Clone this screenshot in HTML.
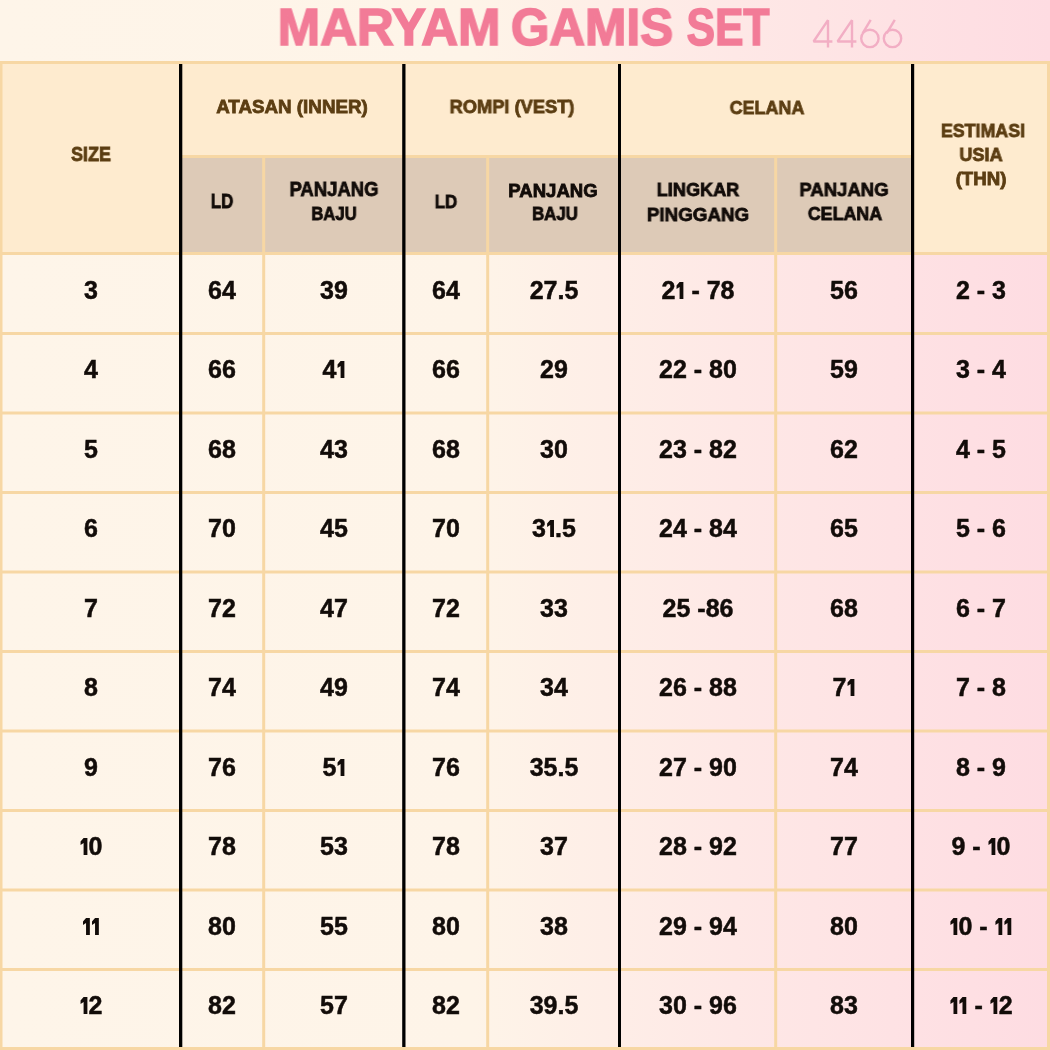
<!DOCTYPE html>
<html><head><meta charset="utf-8"><style>
html,body{margin:0;padding:0;}
body{width:1050px;height:1050px;position:relative;overflow:hidden;background:linear-gradient(90deg,#fef5e9 0%,#fef4e8 45%,#fee8e6 70%,#fedce2 100%);font-family:"Liberation Sans",sans-serif;}
.t{position:absolute;white-space:nowrap;line-height:1;font-weight:bold;transform-origin:50% 0;-webkit-text-stroke:0.5px currentColor;will-change:transform;}
.d{position:absolute;white-space:nowrap;line-height:1;font-weight:bold;font-size:25.0px;color:#120c09;transform:translateX(-50%);-webkit-text-stroke:0.5px currentColor;will-change:transform;}
.one{display:inline-block;vertical-align:-0.4px;}
</style></head><body>
<svg width="1050" height="1050" viewBox="0 0 1050 1050" style="position:absolute;left:0;top:0"><rect x="0" y="61" width="1050" height="194" fill="#feebcf"/><rect x="182" y="155" width="730" height="100" fill="#ddcab7"/><rect x="0" y="61" width="1050" height="3" fill="#f7d7a4"/><rect x="0" y="61" width="2.5" height="989" fill="#f7d7a4"/><rect x="1047" y="61" width="3" height="989" fill="#f7d7a4"/><rect x="0" y="1047" width="1050" height="3" fill="#f7d7a4"/><rect x="182" y="155" width="730" height="3" fill="#f7d7a4"/><rect x="0" y="252" width="1050" height="3" fill="#f7d7a4"/><rect x="0" y="332.0" width="1050" height="3.0" fill="#f7d7a4"/><rect x="0" y="411.5" width="1050" height="3.0" fill="#f7d7a4"/><rect x="0" y="491.0" width="1050" height="3.0" fill="#f7d7a4"/><rect x="0" y="570.5" width="1050" height="3.0" fill="#f7d7a4"/><rect x="0" y="650.0" width="1050" height="3.0" fill="#f7d7a4"/><rect x="0" y="729.5" width="1050" height="3.0" fill="#f7d7a4"/><rect x="0" y="809.0" width="1050" height="3.0" fill="#f7d7a4"/><rect x="0" y="888.5" width="1050" height="3.0" fill="#f7d7a4"/><rect x="0" y="968.0" width="1050" height="3.0" fill="#f7d7a4"/><rect x="262.2" y="155" width="3.0" height="895" fill="#f7d7a4"/><rect x="486.2" y="155" width="3.0" height="895" fill="#f7d7a4"/><rect x="774.2" y="155" width="3.0" height="895" fill="#f7d7a4"/><rect x="179" y="64" width="3.3" height="983" fill="#000"/><rect x="402.2" y="64" width="3.3" height="983" fill="#000"/><rect x="618" y="64" width="3" height="983" fill="#000"/><rect x="911" y="64" width="3.2" height="983" fill="#000"/></svg>
<div class="t" style="left:388.50px;top:2.46px;font-size:51.21px;color:#f27b97;transform:translateX(-50%) scaleX(0.995);-webkit-text-stroke:1.6px currentColor;">MARYAM</div><div class="t" style="left:592.00px;top:2.46px;font-size:51.21px;color:#f27b97;transform:translateX(-50%) scaleX(0.967);-webkit-text-stroke:1.6px currentColor;">GAMIS</div><div class="t" style="left:728.35px;top:2.46px;font-size:51.21px;color:#f27b97;transform:translateX(-50%) scaleX(0.832);-webkit-text-stroke:1.6px currentColor;">SET</div><div class="t" style="left:91.35px;top:145.41px;font-size:19.29px;color:#5c3e13;transform:translateX(-50%) scaleX(0.930);-webkit-text-stroke:0.8px currentColor;">SIZE</div><div class="t" style="left:291.75px;top:97.94px;font-size:18.44px;color:#5c3e13;transform:translateX(-50%) scaleX(1.019);-webkit-text-stroke:0.8px currentColor;">ATASAN (INNER)</div><div class="t" style="left:511.52px;top:98.00px;font-size:18.72px;color:#5c3e13;transform:translateX(-50%) scaleX(0.977);-webkit-text-stroke:0.8px currentColor;">ROMPI (VEST)</div><div class="t" style="left:766.50px;top:97.53px;font-size:19.15px;color:#5c3e13;transform:translateX(-50%) scaleX(0.936);-webkit-text-stroke:0.8px currentColor;">CELANA</div><div class="t" style="left:982.75px;top:122.04px;font-size:18.44px;color:#5c3e13;transform:translateX(-50%) scaleX(0.966);-webkit-text-stroke:0.8px currentColor;">ESTIMASI</div><div class="t" style="left:980.75px;top:146.04px;font-size:18.44px;color:#5c3e13;transform:translateX(-50%) scaleX(0.984);-webkit-text-stroke:0.8px currentColor;">USIA</div><div class="t" style="left:980.65px;top:170.11px;font-size:18.01px;color:#5c3e13;transform:translateX(-50%) scaleX(1.035);-webkit-text-stroke:0.8px currentColor;">(THN)</div><div class="t" style="left:222.45px;top:192.37px;font-size:19.57px;color:#120c09;transform:translateX(-50%) scaleX(0.863);-webkit-text-stroke:0.8px currentColor;">LD</div><div class="t" style="left:334.05px;top:180.27px;font-size:19.57px;color:#120c09;transform:translateX(-50%) scaleX(0.945);-webkit-text-stroke:0.8px currentColor;">PANJANG</div><div class="t" style="left:334.05px;top:204.88px;font-size:18.87px;color:#120c09;transform:translateX(-50%) scaleX(0.884);-webkit-text-stroke:0.8px currentColor;">BAJU</div><div class="t" style="left:445.50px;top:193.02px;font-size:18.58px;color:#120c09;transform:translateX(-50%) scaleX(0.912);-webkit-text-stroke:0.8px currentColor;">LD</div><div class="t" style="left:553.45px;top:181.71px;font-size:18.01px;color:#120c09;transform:translateX(-50%) scaleX(1.030);-webkit-text-stroke:0.8px currentColor;">PANJANG</div><div class="t" style="left:555.25px;top:205.19px;font-size:18.16px;color:#120c09;transform:translateX(-50%) scaleX(0.926);-webkit-text-stroke:0.8px currentColor;">BAJU</div><div class="t" style="left:697.70px;top:180.78px;font-size:18.87px;color:#120c09;transform:translateX(-50%) scaleX(0.961);-webkit-text-stroke:0.8px currentColor;">LINGKAR</div><div class="t" style="left:697.70px;top:204.53px;font-size:19.15px;color:#120c09;transform:translateX(-50%) scaleX(0.982);-webkit-text-stroke:0.8px currentColor;">PINGGANG</div><div class="t" style="left:844.25px;top:180.82px;font-size:18.58px;color:#120c09;transform:translateX(-50%) scaleX(0.997);-webkit-text-stroke:0.8px currentColor;">PANJANG</div><div class="t" style="left:844.75px;top:204.68px;font-size:18.87px;color:#120c09;transform:translateX(-50%) scaleX(0.946);-webkit-text-stroke:0.8px currentColor;">CELANA</div><div class="d" style="left:90.75px;top:277.52px">3</div><div class="d" style="left:222.20px;top:277.52px">64</div><div class="d" style="left:333.90px;top:277.52px">39</div><div class="d" style="left:445.90px;top:277.52px">64</div><div class="d" style="left:553.75px;top:277.52px">27.5</div><div class="d" style="left:697.60px;top:277.52px">2<svg class="one" width="9" height="17.6" viewBox="0 0 9 17.6"><path d="M4.05 0 H7.85 V17.6 H4.05 V5.0 L1.0 7.0 V3.6 Z" fill="#120c09"/></svg> - 78</div><div class="d" style="left:844.20px;top:277.52px">56</div><div class="d" style="left:980.60px;top:277.52px">2 - 3</div><div class="d" style="left:90.75px;top:357.02px">4</div><div class="d" style="left:222.20px;top:357.02px">66</div><div class="d" style="left:333.90px;top:357.02px">4<svg class="one" width="9" height="17.6" viewBox="0 0 9 17.6"><path d="M4.05 0 H7.85 V17.6 H4.05 V5.0 L1.0 7.0 V3.6 Z" fill="#120c09"/></svg></div><div class="d" style="left:445.90px;top:357.02px">66</div><div class="d" style="left:553.75px;top:357.02px">29</div><div class="d" style="left:697.60px;top:357.02px">22 - 80</div><div class="d" style="left:844.20px;top:357.02px">59</div><div class="d" style="left:980.60px;top:357.02px">3 - 4</div><div class="d" style="left:90.75px;top:436.52px">5</div><div class="d" style="left:222.20px;top:436.52px">68</div><div class="d" style="left:333.90px;top:436.52px">43</div><div class="d" style="left:445.90px;top:436.52px">68</div><div class="d" style="left:553.75px;top:436.52px">30</div><div class="d" style="left:697.60px;top:436.52px">23 - 82</div><div class="d" style="left:844.20px;top:436.52px">62</div><div class="d" style="left:980.60px;top:436.52px">4 - 5</div><div class="d" style="left:90.75px;top:516.02px">6</div><div class="d" style="left:222.20px;top:516.02px">70</div><div class="d" style="left:333.90px;top:516.02px">45</div><div class="d" style="left:445.90px;top:516.02px">70</div><div class="d" style="left:553.75px;top:516.02px">3<svg class="one" width="9" height="17.6" viewBox="0 0 9 17.6"><path d="M4.05 0 H7.85 V17.6 H4.05 V5.0 L1.0 7.0 V3.6 Z" fill="#120c09"/></svg>.5</div><div class="d" style="left:697.60px;top:516.02px">24 - 84</div><div class="d" style="left:844.20px;top:516.02px">65</div><div class="d" style="left:980.60px;top:516.02px">5 - 6</div><div class="d" style="left:90.75px;top:595.52px">7</div><div class="d" style="left:222.20px;top:595.52px">72</div><div class="d" style="left:333.90px;top:595.52px">47</div><div class="d" style="left:445.90px;top:595.52px">72</div><div class="d" style="left:553.75px;top:595.52px">33</div><div class="d" style="left:697.60px;top:595.52px">25 -86</div><div class="d" style="left:844.20px;top:595.52px">68</div><div class="d" style="left:980.60px;top:595.52px">6 - 7</div><div class="d" style="left:90.75px;top:675.02px">8</div><div class="d" style="left:222.20px;top:675.02px">74</div><div class="d" style="left:333.90px;top:675.02px">49</div><div class="d" style="left:445.90px;top:675.02px">74</div><div class="d" style="left:553.75px;top:675.02px">34</div><div class="d" style="left:697.60px;top:675.02px">26 - 88</div><div class="d" style="left:844.20px;top:675.02px">7<svg class="one" width="9" height="17.6" viewBox="0 0 9 17.6"><path d="M4.05 0 H7.85 V17.6 H4.05 V5.0 L1.0 7.0 V3.6 Z" fill="#120c09"/></svg></div><div class="d" style="left:980.60px;top:675.02px">7 - 8</div><div class="d" style="left:90.75px;top:754.52px">9</div><div class="d" style="left:222.20px;top:754.52px">76</div><div class="d" style="left:333.90px;top:754.52px">5<svg class="one" width="9" height="17.6" viewBox="0 0 9 17.6"><path d="M4.05 0 H7.85 V17.6 H4.05 V5.0 L1.0 7.0 V3.6 Z" fill="#120c09"/></svg></div><div class="d" style="left:445.90px;top:754.52px">76</div><div class="d" style="left:553.75px;top:754.52px">35.5</div><div class="d" style="left:697.60px;top:754.52px">27 - 90</div><div class="d" style="left:844.20px;top:754.52px">74</div><div class="d" style="left:980.60px;top:754.52px">8 - 9</div><div class="d" style="left:90.75px;top:834.02px"><svg class="one" width="9" height="17.6" viewBox="0 0 9 17.6"><path d="M4.05 0 H7.85 V17.6 H4.05 V5.0 L1.0 7.0 V3.6 Z" fill="#120c09"/></svg>0</div><div class="d" style="left:222.20px;top:834.02px">78</div><div class="d" style="left:333.90px;top:834.02px">53</div><div class="d" style="left:445.90px;top:834.02px">78</div><div class="d" style="left:553.75px;top:834.02px">37</div><div class="d" style="left:697.60px;top:834.02px">28 - 92</div><div class="d" style="left:844.20px;top:834.02px">77</div><div class="d" style="left:980.60px;top:834.02px">9 - <svg class="one" width="9" height="17.6" viewBox="0 0 9 17.6"><path d="M4.05 0 H7.85 V17.6 H4.05 V5.0 L1.0 7.0 V3.6 Z" fill="#120c09"/></svg>0</div><div class="d" style="left:90.75px;top:913.52px"><svg class="one" width="9" height="17.6" viewBox="0 0 9 17.6"><path d="M4.05 0 H7.85 V17.6 H4.05 V5.0 L1.0 7.0 V3.6 Z" fill="#120c09"/></svg><svg class="one" width="9" height="17.6" viewBox="0 0 9 17.6"><path d="M4.05 0 H7.85 V17.6 H4.05 V5.0 L1.0 7.0 V3.6 Z" fill="#120c09"/></svg></div><div class="d" style="left:222.20px;top:913.52px">80</div><div class="d" style="left:333.90px;top:913.52px">55</div><div class="d" style="left:445.90px;top:913.52px">80</div><div class="d" style="left:553.75px;top:913.52px">38</div><div class="d" style="left:697.60px;top:913.52px">29 - 94</div><div class="d" style="left:844.20px;top:913.52px">80</div><div class="d" style="left:980.60px;top:913.52px"><svg class="one" width="9" height="17.6" viewBox="0 0 9 17.6"><path d="M4.05 0 H7.85 V17.6 H4.05 V5.0 L1.0 7.0 V3.6 Z" fill="#120c09"/></svg>0 - <svg class="one" width="9" height="17.6" viewBox="0 0 9 17.6"><path d="M4.05 0 H7.85 V17.6 H4.05 V5.0 L1.0 7.0 V3.6 Z" fill="#120c09"/></svg><svg class="one" width="9" height="17.6" viewBox="0 0 9 17.6"><path d="M4.05 0 H7.85 V17.6 H4.05 V5.0 L1.0 7.0 V3.6 Z" fill="#120c09"/></svg></div><div class="d" style="left:90.75px;top:993.02px"><svg class="one" width="9" height="17.6" viewBox="0 0 9 17.6"><path d="M4.05 0 H7.85 V17.6 H4.05 V5.0 L1.0 7.0 V3.6 Z" fill="#120c09"/></svg>2</div><div class="d" style="left:222.20px;top:993.02px">82</div><div class="d" style="left:333.90px;top:993.02px">57</div><div class="d" style="left:445.90px;top:993.02px">82</div><div class="d" style="left:553.75px;top:993.02px">39.5</div><div class="d" style="left:697.60px;top:993.02px">30 - 96</div><div class="d" style="left:844.20px;top:993.02px">83</div><div class="d" style="left:980.60px;top:993.02px"><svg class="one" width="9" height="17.6" viewBox="0 0 9 17.6"><path d="M4.05 0 H7.85 V17.6 H4.05 V5.0 L1.0 7.0 V3.6 Z" fill="#120c09"/></svg><svg class="one" width="9" height="17.6" viewBox="0 0 9 17.6"><path d="M4.05 0 H7.85 V17.6 H4.05 V5.0 L1.0 7.0 V3.6 Z" fill="#120c09"/></svg> - <svg class="one" width="9" height="17.6" viewBox="0 0 9 17.6"><path d="M4.05 0 H7.85 V17.6 H4.05 V5.0 L1.0 7.0 V3.6 Z" fill="#120c09"/></svg>2</div>
<svg width="110" height="40" viewBox="0 0 110 40" style="position:absolute;left:800px;top:14px" fill="none" stroke="#f2aec4" stroke-width="2.4" stroke-linejoin="bevel" stroke-linecap="butt">
<path d="M28 33.6 V6.2 L13.6 27.5 H32.4"/>
<path d="M52 33.6 V6.2 L37.6 27.5 H56.4"/>
<path d="M70.7 5.9 L62.6 19.3"/>
<circle cx="69.9" cy="24.4" r="8.7"/>
<path d="M94.8 5.9 L86.7 19.3"/>
<circle cx="92.5" cy="24.4" r="8.7"/>
</svg>
</body></html>
